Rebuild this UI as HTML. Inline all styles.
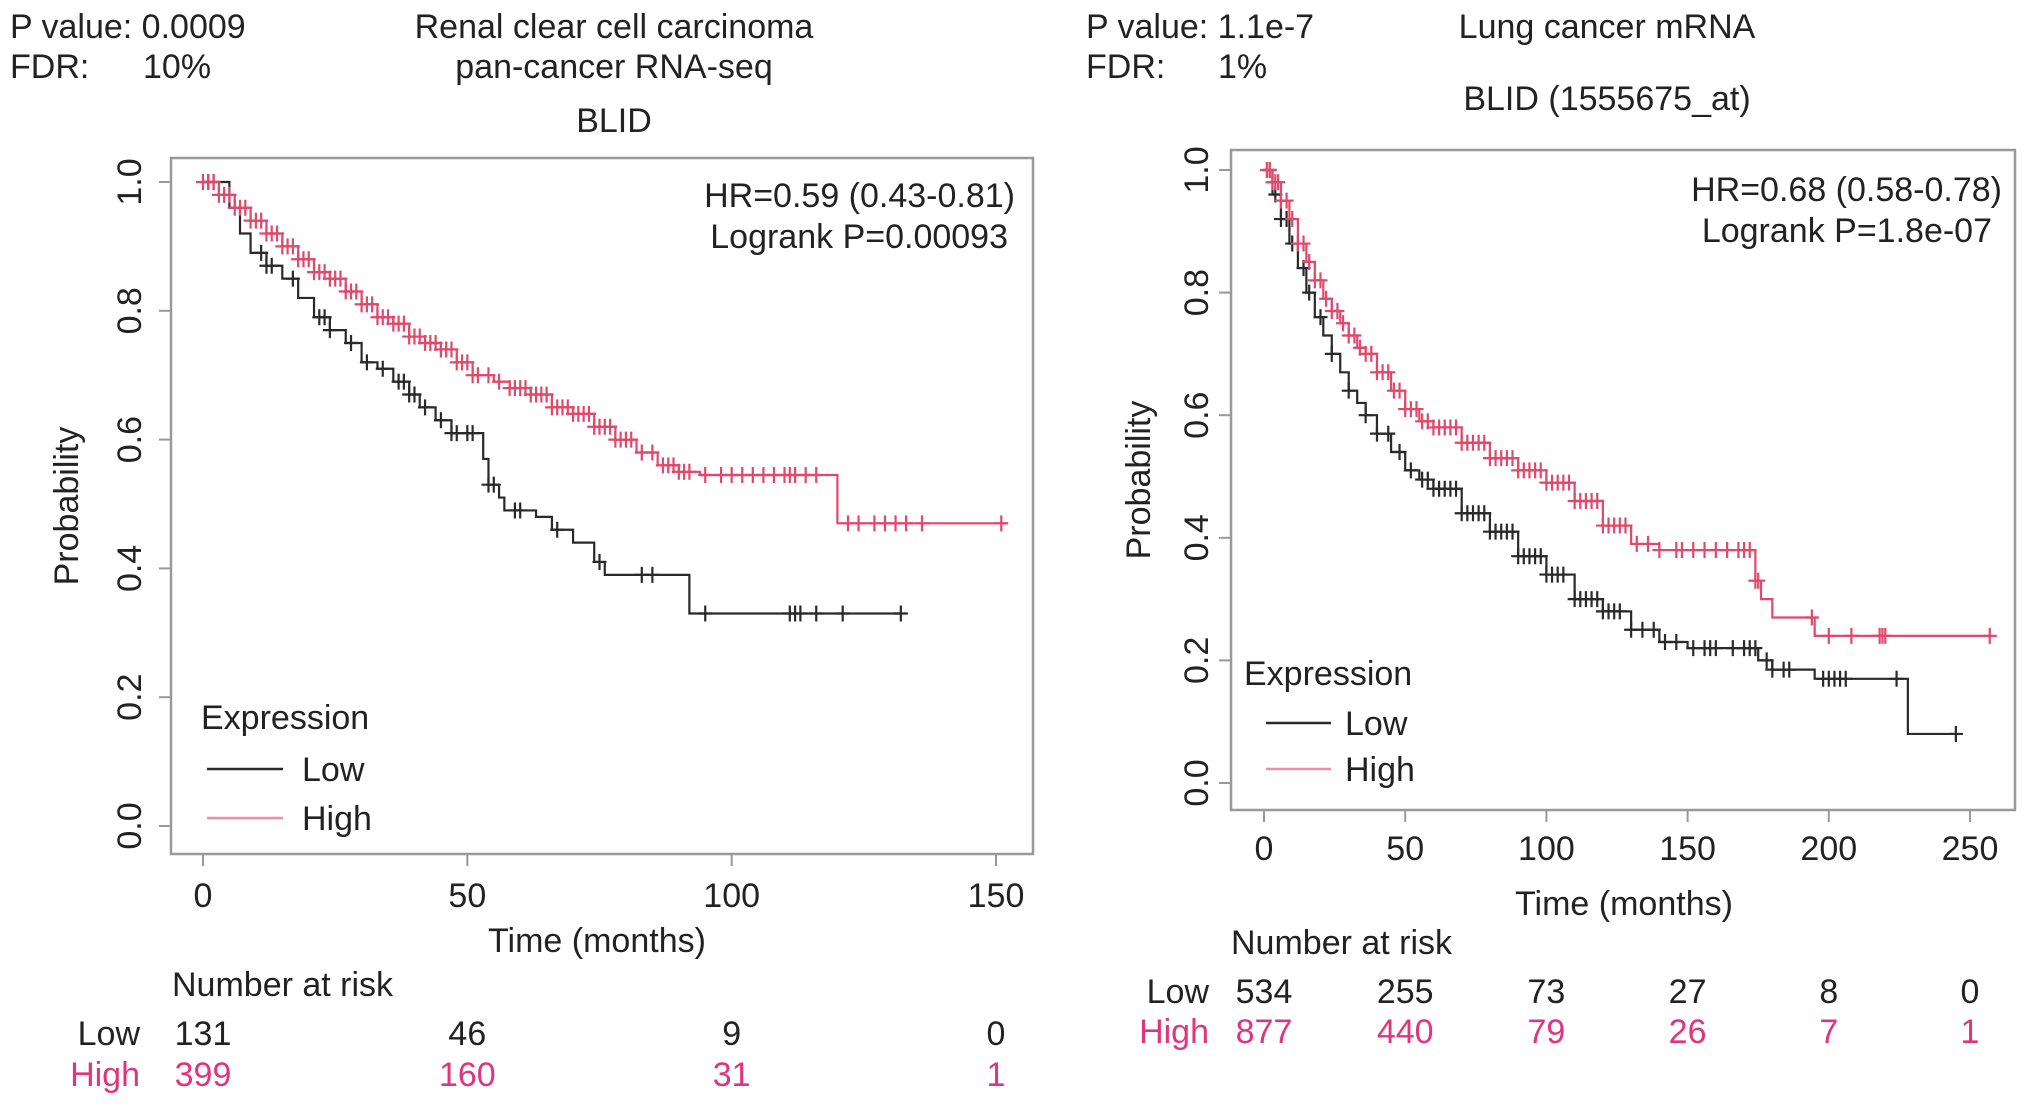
<!DOCTYPE html>
<html><head><meta charset="utf-8">
<style>
html,body{margin:0;padding:0;background:#fff;}
body{width:2032px;height:1106px;overflow:hidden;position:relative;font-family:"Liberation Sans",Arial,sans-serif;}
svg text{font-family:"Liberation Sans",Arial,sans-serif;fill:#222;}
</style></head>
<body>
<svg id="chart" width="2032" height="1106" viewBox="0 0 2032 1106" xmlns="http://www.w3.org/2000/svg"></svg>
<script>
// ---- Left panel data (Renal clear cell carcinoma) ----
const leftLowTimes = [0,5,7,9,12,15,18,21,24,27,30,33,36,39,41,44,47,53,54,56,57,63,66,70,74,76,92,132];
const leftLowSurv  = [1.0,0.96,0.92,0.89,0.87,0.85,0.82,0.79,0.77,0.75,0.72,0.71,0.69,0.67,0.65,0.63,0.61,0.57,0.53,0.51,0.49,0.48,0.46,0.44,0.41,0.39,0.33,0.33];
const leftLowCensor = [1,2,11,12,13,17,22,23,24,28,31,34,37,38,39,40,42,45,47,48,50,51,54,55,59,60,67,75,83,85,95,111,112,113,116,121,132];
const leftHighTimes = [0,3,6,9,12,15,18,21,24,27,30,33,36,39,42,45,48,51,55,58,62,66,70,74,78,82,86,90,94,119,120,152];
const leftHighSurv  = [1.0,0.98,0.96,0.94,0.92,0.90,0.88,0.86,0.85,0.83,0.81,0.79,0.78,0.76,0.75,0.74,0.72,0.70,0.69,0.68,0.67,0.65,0.64,0.62,0.60,0.58,0.56,0.55,0.545,0.545,0.47,0.47];
const leftHighCensor = [0,1,2,3,4,5,6,7,8,9,10,11,12,13,14,15,16,17,18,19,20,21,22,23,24,25,26,27,28,29,30,31,32,33,34,35,36,37,38,39,40,41,42,43,44,45,46,47,48,49,50,51,52,54,56,58,59,60,61,62,63,64,65,66,67,68,69,70,71,72,73,74,75,76,77,78,79,80,81,83,85,87,88,89,90,91,92,95,98,100,102,104,106,108,110,111,112,114,116,122,124,127,129,131,133,136,151];
const leftXTicks = [0,50,100,150];
const leftYTicks = ["0.0","0.2","0.4","0.6","0.8","1.0"];
const leftRiskLow = ["131","46","9","0"];
const leftRiskHigh = ["399","160","31","1"];

// ---- Right panel data (Lung cancer mRNA) ----
const rightLowTimes = [0,3,6,9,12,15,18,21,24,27,30,33,36,40,45,50,55,60,70,80,90,100,110,120,130,140,150,172,175,180,195,228,245];
const rightLowSurv  = [1.0,0.96,0.92,0.88,0.84,0.80,0.76,0.73,0.70,0.67,0.64,0.62,0.60,0.57,0.54,0.51,0.495,0.48,0.44,0.41,0.37,0.34,0.30,0.28,0.25,0.23,0.22,0.22,0.20,0.185,0.17,0.08,0.08];
const rightLowCensor = [2,4,6,8,10,14,16,20,24,30,36,40,44,48,52,56,58,60,62,64,66,68,70,72,74,76,78,80,82,84,86,88,90,92,94,96,98,100,102,104,106,110,112,114,116,118,120,122,124,126,130,134,138,142,146,152,156,158,160,166,170,172,174,178,180,184,186,198,200,202,204,206,224,245];
const rightHighTimes = [0,3,6,9,12,15,18,21,24,27,30,33,36,40,45,50,55,60,70,80,90,100,110,120,130,140,172,174,176,180,195,257];
const rightHighSurv  = [1.0,0.98,0.95,0.92,0.88,0.85,0.82,0.79,0.77,0.75,0.73,0.71,0.70,0.67,0.64,0.61,0.59,0.58,0.555,0.53,0.51,0.49,0.46,0.42,0.39,0.38,0.38,0.33,0.30,0.27,0.24,0.24];
const rightHighCensor = [1,2,3,4,5,6,8,10,12,14,16,18,20,22,24,26,28,30,32,34,36,38,40,42,44,46,48,50,52,54,56,58,60,62,64,66,68,70,72,74,76,78,80,82,84,86,88,90,92,94,96,98,100,102,104,106,108,110,112,114,116,118,120,122,124,126,128,132,136,140,146,148,152,156,160,164,168,170,172,174,175,194,200,208,218,219,220,257];
const rightXTicks = [0,50,100,150,200,250];
const rightYTicks = ["0.0","0.2","0.4","0.6","0.8","1.0"];
const rightRiskLow = ["534","255","73","27","8","0"];
const rightRiskHigh = ["877","440","79","26","7","1"];

const NS = "http://www.w3.org/2000/svg";
const svg = document.getElementById('chart');
const LOW = "#2a2a2a", HIGH = "#e0486c", HIGHTXT = "#e0357a";
const FS = 34;

function mk(tag, attrs, parent, text){
  const e = document.createElementNS(NS, tag);
  for (const k in attrs) e.setAttribute(k, attrs[k]);
  if (text !== undefined) e.textContent = text;
  (parent || svg).appendChild(e);
  return e;
}
function stepAt(times, surv, t){
  let v = surv[0];
  for (let i=0;i<times.length;i++){ if (times[i] <= t) v = surv[i]; else break; }
  return v;
}

function drawPanel(p){
  const g = mk('g', {});
  
  
  const sx = t => p.x0 + (t - 0) / p.xMax * (p.x1 - p.x0);
  const sy = v => p.y0 + v * (p.y1 - p.y0);
  const fr = mk('rect', {x:p.bx0, y:p.by0, width:p.bx1-p.bx0, height:p.by1-p.by0, fill:'none', stroke:'#999', 'stroke-width':2.5}, g);
  
  
  p.xTicks.forEach(t => {
    mk('line', {x1:sx(t), x2:sx(t), y1:p.by1, y2:p.by1+12, stroke:'#999','stroke-width':2}, g);
    const tl = mk('text', {x:sx(t), y:p.xLabelY, 'font-size':FS, 'text-anchor':'middle'}, g, String(t));
    
    
  });
  p.yTicks.forEach(lbl => {
    const v = parseFloat(lbl);
    mk('line', {x1:p.bx0-12, x2:p.bx0, y1:sy(v), y2:sy(v), stroke:'#999','stroke-width':2}, g);
    const tl = mk('text', {x:0, y:0, 'font-size':FS, 'text-anchor':'middle', transform:`translate(${p.yLabelX},${sy(v)}) rotate(-90)`}, g, lbl);
    
    
  });
  const xt = mk('text', {x:p.xTitleX, y:p.xTitleY, 'font-size':FS, 'text-anchor':'middle'}, g, 'Time (months)');
  
  
  const yt = mk('text', {x:0, y:0, 'font-size':FS, 'text-anchor':'middle', transform:`translate(${p.yTitleX},${(p.by0+p.by1)/2}) rotate(-90)`}, g, 'Probability');
  
  
  [[p.low, LOW, 'low-expression-curve'], [p.high, HIGH, 'high-expression-curve']].forEach(([s, col, nm]) => {
    let d = `M${sx(s.times[0])},${sy(s.surv[0])}`;
    for (let i=1;i<s.times.length;i++){
      d += ` H${sx(s.times[i])} V${sy(s.surv[i])}`;
    }
    const path = mk('path', {d, fill:'none', stroke:col, 'stroke-width':2.2}, g);
    
    
    s.censor.forEach(t => {
      const cx = sx(t), cy = sy(stepAt(s.times, s.surv, t));
      const c = mk('path', {d:`M${cx-7},${cy} H${cx+7} M${cx},${cy-8} V${cy+8}`, stroke:col, 'stroke-width':2.2, fill:'none'}, g);
      
      
    });
  });
  const hr = mk('text', {x:p.hrX, y:p.hrY, 'font-size':FS, 'text-anchor':'end'}, g, p.hr);
  
  
  const lr = mk('text', {x:p.lrX, y:p.hrY+41, 'font-size':FS, 'text-anchor':'end'}, g, p.lr);
  
  
  const lg = mk('g', {}, g);
  
  
  const le = mk('text', {x:p.legX, y:p.legY, 'font-size':FS}, lg, 'Expression');
  
  
  [['Low', LOW, 0], ['High', '#ee8fa4', 1]].forEach(([lbl, col, i]) => {
    const yy = p.legY + p.legOff + i*p.legSp;
    mk('line', {x1:p.legLineX0, x2:p.legLineX1, y1:yy, y2:yy, stroke:col, 'stroke-width':2.5}, lg);
    const t = mk('text', {x:p.legTextX, y:yy+12, 'font-size':FS}, lg, lbl);
    
    
  });
  const nr = mk('text', {x:p.riskX, y:p.riskY, 'font-size':FS}, g, 'Number at risk');
  
  
  const rl = mk('text', {x:p.riskLabelX, y:p.riskY+p.riskDy1, 'font-size':FS, 'text-anchor':'end'}, g, 'Low');
  
  
  const rh = mk('text', {x:p.riskLabelX, y:p.riskY+p.riskDy2, 'font-size':FS, 'text-anchor':'end', style:`fill:${HIGHTXT}`}, g, 'High');
  
  
  p.xTicks.forEach((t, i) => {
    const a = mk('text', {x:sx(t), y:p.riskY+p.riskDy1, 'font-size':FS, 'text-anchor':'middle'}, g, p.riskLow[i]);
    
    
    const b = mk('text', {x:sx(t), y:p.riskY+p.riskDy2, 'font-size':FS, 'text-anchor':'middle', style:`fill:${HIGHTXT}`}, g, p.riskHigh[i]);
    
    
  });
  const h1 = mk('text', {x:p.hdrX, y:38, 'font-size':FS}, g, p.pval);
  
  
  mk('text', {x:p.hdrX, y:78, 'font-size':FS}, g, 'FDR:');
  const fd = mk('text', {x:p.fdrX, y:78, 'font-size':FS}, g, p.fdr);
  
  
  p.titles.forEach(([txt, y]) => {
    const t = mk('text', {x:p.titleX, y, 'font-size':FS, 'text-anchor':'middle'}, g, txt);
    
    
  });
}

drawPanel({
  name:'renal-km-panel', x0:203, x1:996, xMax:150, y0:826, y1:182,
  bx0:171, bx1:1033, by0:158, by1:854,
  xTicks:leftXTicks, yTicks:leftYTicks, xLabelY:907, yLabelX:141,
  xTitleX:597, xTitleY:952, yTitleX:78,
  low:{times:leftLowTimes, surv:leftLowSurv, censor:leftLowCensor},
  high:{times:leftHighTimes, surv:leftHighSurv, censor:leftHighCensor},
  hr:'HR=0.59 (0.43-0.81)', lr:'Logrank P=0.00093', hrX:1015, lrX:1008, hrY:207,
  legX:201, legY:729, legOff:40, legSp:49, legLineX0:207, legLineX1:283, legTextX:302,
  riskX:172, riskY:996, riskLabelX:140, riskDy1:49, riskDy2:90,
  riskLow:leftRiskLow, riskHigh:leftRiskHigh,
  hdrX:10, fdrX:143, pval:'P value: 0.0009', fdr:'10%', titleX:614,
  titles:[['Renal clear cell carcinoma',38],['pan-cancer RNA-seq',78],['BLID',132]]
});
drawPanel({
  name:'lung-km-panel', x0:1264, x1:1970, xMax:250, y0:783, y1:170,
  bx0:1231, bx1:2015, by0:150, by1:810,
  xTicks:rightXTicks, yTicks:rightYTicks, xLabelY:860, yLabelX:1208,
  xTitleX:1624, xTitleY:915, yTitleX:1150,
  low:{times:rightLowTimes, surv:rightLowSurv, censor:rightLowCensor},
  high:{times:rightHighTimes, surv:rightHighSurv, censor:rightHighCensor},
  hr:'HR=0.68 (0.58-0.78)', lr:'Logrank P=1.8e-07', hrX:2002, lrX:1992, hrY:201,
  legX:1244, legY:685, legOff:38, legSp:46, legLineX0:1266, legLineX1:1331, legTextX:1345,
  riskX:1231, riskY:954, riskLabelX:1209, riskDy1:49, riskDy2:89,
  riskLow:rightRiskLow, riskHigh:rightRiskHigh,
  hdrX:1086, fdrX:1218, pval:'P value: 1.1e-7', fdr:'1%', titleX:1607,
  titles:[['Lung cancer mRNA',38],['BLID (1555675_at)',110]]
});
</script>
</body></html>
